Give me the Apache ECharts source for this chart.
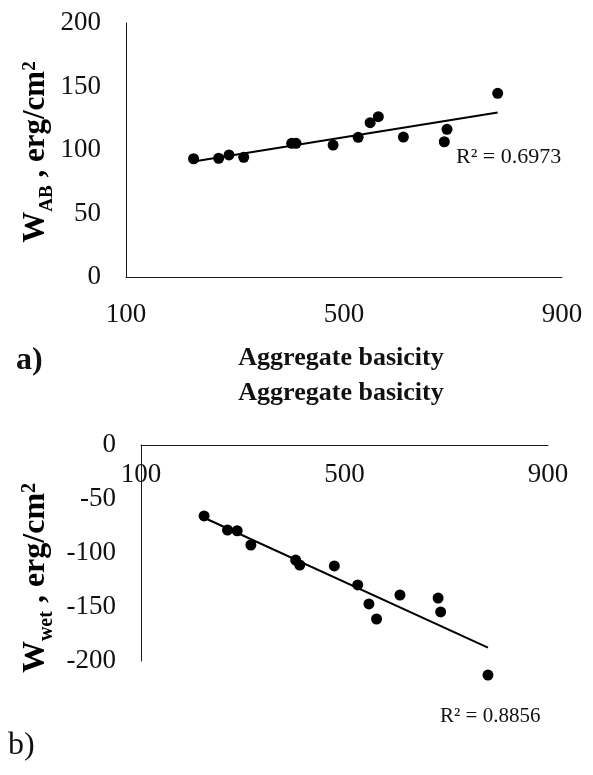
<!DOCTYPE html>
<html>
<head>
<meta charset="utf-8">
<script src="https://cdn.jsdelivr.net/npm/echarts@6/dist/echarts.min.js"></script>
<style>
  html, body { margin: 0; padding: 0; background: #fff; }
  #chart { width: 593px; height: 775px; }
</style>
</head>
<body>
<div id="chart"></div>
<script>
// Aggregate basicity (x), shared by both panels
const basicity = [224, 270, 289, 316, 404, 412, 480, 526, 548, 563, 609, 684, 689, 782];
// Panel a) work of adhesion W_AB, erg/cm2
const wAB = [93.1, 93.5, 96.1, 94.3, 105.3, 105.3, 103.9, 110.0, 121.5, 126.2, 110.2, 106.5, 116.3, 144.6];
// Panel b) work of adhesion in water W_wet, erg/cm2
const wWet = [-65.7, -78.7, -79.4, -92.6, -106.5, -111.1, -112.0, -129.6, -147.2, -161.1, -138.9, -141.7, -154.6, -213.0];
const xTicks = [100, 500, 900];
const yTicksA = [0, 50, 100, 150, 200];
const yTicksB = [-200, -150, -100, -50, 0];
const r2a = 'R² = 0.6973';
const r2b = 'R² = 0.8856';
const xTitle = 'Aggregate basicity';

function fit(xs, ys) {
  const n = xs.length;
  let sx = 0, sy = 0, sxx = 0, sxy = 0;
  for (let i = 0; i < n; i++) { sx += xs[i]; sy += ys[i]; sxx += xs[i] * xs[i]; sxy += xs[i] * ys[i]; }
  const b = (n * sxy - sx * sy) / (n * sxx - sx * sx);
  const a = (sy - b * sx) / n;
  const x0 = Math.min(...xs), x1 = Math.max(...xs);
  return [[x0, a + b * x0], [x1, a + b * x1]];
}

const chart = echarts.init(document.getElementById('chart'), null, { renderer: 'canvas' });
const serif = '"Liberation Serif", "Times New Roman", serif';
const axisCol = '#1a1a1a';
const labelStyle = { fontFamily: serif, fontSize: 27, color: '#111' };

const common = {
  axisLine: { show: true, onZero: false, lineStyle: { color: axisCol, width: 1 } },
  axisTick: { show: false },
  splitLine: { show: false }
};

function titleRich(size, sub) {
  return {
    b: { fontFamily: serif, fontWeight: 'bold', fontSize: size, color: '#111', verticalAlign: 'bottom' },
    s: { fontFamily: serif, fontWeight: 'bold', fontSize: sub, color: '#111', verticalAlign: 'bottom', padding: [0, 0, -5, 0] },
    p: { fontFamily: serif, fontWeight: 'bold', fontSize: sub, color: '#111', verticalAlign: 'top' }
  };
}

chart.setOption({
  animation: false,
  backgroundColor: '#fff',
  grid: [
    { left: 126, right: 31, top: 23, height: 254 },
    { left: 141, right: 45, top: 445, height: 216 }
  ],
  xAxis: [
    Object.assign({ gridIndex: 0, type: 'value', min: 100, max: 900, interval: 400, position: 'bottom',
      axisLabel: Object.assign({ margin: 24 }, labelStyle) }, common),
    Object.assign({ gridIndex: 1, type: 'value', min: 100, max: 900, interval: 400, position: 'top',
      axisLabel: Object.assign({ margin: 16, inside: true }, labelStyle) }, common)
  ],
  yAxis: [
    Object.assign({ gridIndex: 0, type: 'value', min: 0, max: 200, interval: 50,
      axisLabel: Object.assign({ margin: 25 }, labelStyle) }, common),
    Object.assign({ gridIndex: 1, type: 'value', min: -200, max: 0, interval: 50,
      axisLabel: Object.assign({ margin: 25 }, labelStyle) }, common)
  ],
  series: [
    { type: 'scatter', xAxisIndex: 0, yAxisIndex: 0, symbolSize: 11, clip: false,
      itemStyle: { color: '#000', opacity: 1 }, data: basicity.map((x, i) => [x, wAB[i]]) },
    { type: 'line', xAxisIndex: 0, yAxisIndex: 0, symbol: 'none', clip: false,
      lineStyle: { color: '#000', width: 2 }, data: fit(basicity, wAB) },
    { type: 'scatter', xAxisIndex: 1, yAxisIndex: 1, symbolSize: 11, clip: false,
      itemStyle: { color: '#000', opacity: 1 }, data: basicity.map((x, i) => [x, wWet[i]]) },
    { type: 'line', xAxisIndex: 1, yAxisIndex: 1, symbol: 'none', clip: false,
      lineStyle: { color: '#000', width: 2 }, data: fit(basicity, wWet) }
  ],
  graphic: [
    { type: 'text', x: 36, y: 152, rotation: Math.PI / 2,
      style: { text: '{b|W}{s|AB}{b| , erg/cm}{p|2}', align: 'center', verticalAlign: 'middle', rich: titleRich(31, 19) } },
    { type: 'text', x: 36, y: 578, rotation: Math.PI / 2,
      style: { text: '{b|W}{s|wet}{b| , erg/cm}{p|2}', align: 'center', verticalAlign: 'middle', rich: titleRich(32, 20) } },
    { type: 'text', x: 341, y: 358,
      style: { text: xTitle, fontFamily: serif, fontWeight: 'bold', fontSize: 26, fill: '#111', align: 'center', verticalAlign: 'middle' } },
    { type: 'text', x: 341, y: 393,
      style: { text: xTitle, fontFamily: serif, fontWeight: 'bold', fontSize: 26, fill: '#111', align: 'center', verticalAlign: 'middle' } },
    { type: 'text', x: 16, y: 361,
      style: { text: 'a)', fontFamily: serif, fontWeight: 'bold', fontSize: 32, fill: '#111', align: 'left', verticalAlign: 'middle' } },
    { type: 'text', x: 8, y: 746,
      style: { text: 'b)', fontFamily: serif, fontSize: 32, fill: '#111', align: 'left', verticalAlign: 'middle' } },
    { type: 'text', x: 456, y: 157,
      style: { text: r2a, fontFamily: serif, fontSize: 22, fill: '#111', align: 'left', verticalAlign: 'middle' } },
    { type: 'text', x: 440, y: 716,
      style: { text: r2b, fontFamily: serif, fontSize: 21, fill: '#111', align: 'left', verticalAlign: 'middle' } }
  ]
});
</script>
</body>
</html>
